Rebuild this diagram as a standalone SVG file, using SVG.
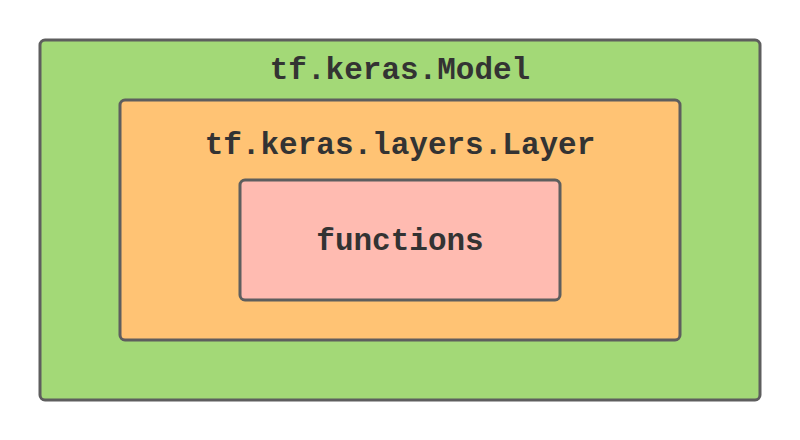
<svg xmlns="http://www.w3.org/2000/svg" width="800" height="440" viewBox="0 0 800 440">
<style>
.box{stroke:#5e5e5e;stroke-width:3}
.lbl{font-family:"Liberation Mono","DejaVu Sans Mono",monospace;font-weight:bold;font-size:31px;fill:#333333;text-anchor:middle}
</style>
<rect width="800" height="440" fill="#ffffff"/>
<g id="model">
<rect class="box" x="40" y="40" width="720" height="360" rx="5" fill="#a3d977"/>
<text class="lbl" x="400" y="79">tf.keras.Model</text>
</g>
<g id="layer">
<rect class="box" x="120" y="100" width="560" height="240" rx="5" fill="#ffc374"/>
<text class="lbl" x="400" y="154">tf.keras.layers.Layer</text>
</g>
<g id="functions">
<rect class="box" x="240" y="180" width="320" height="120" rx="5" fill="#ffbbb1"/>
<text class="lbl" x="400" y="250">functions</text>
</g>
<g id="connectors"></g>
</svg>
